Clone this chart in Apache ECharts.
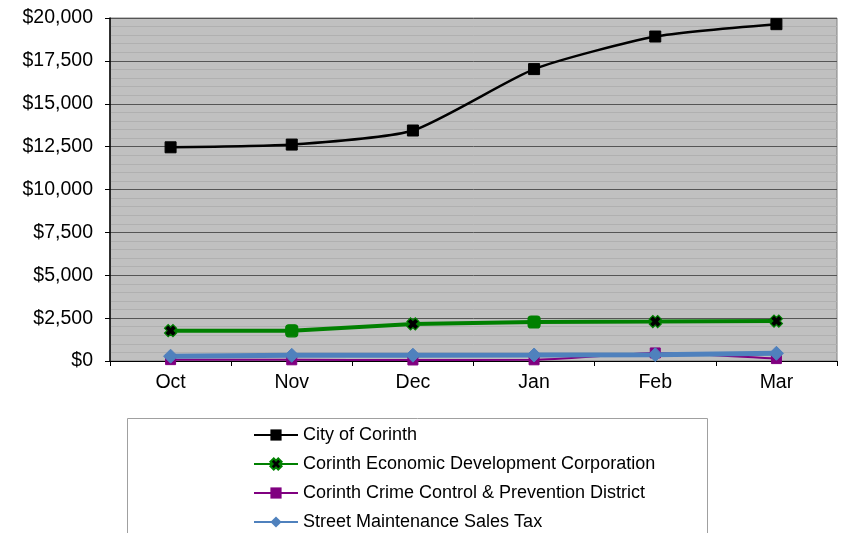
<!DOCTYPE html>
<html>
<head>
<meta charset="utf-8">
<script src="https://cdn.jsdelivr.net/npm/echarts@6/dist/echarts.min.js"></script>
<style>
  html, body { margin: 0; padding: 0; background: #fff; }
  #chart { width: 846px; height: 533px; }
</style>
</head>
<body>
<div id="chart"></div>
<script>
// months on the x axis
const months = ["Oct", "Nov", "Dec", "Jan", "Feb", "Mar"];

// monthly values
const cityOfCorinth = [12460, 12620, 13440, 17020, 18920, 19640];
const econDevCorp = [1770, 1760, 2160, 2275, 2300, 2330];
const crimeControl = [80, 70, 60, 70, 470, 140];
const streetMaint = [280, 330, 340, 350, 370, 450];

// which marker each green point uses (the original mixes them)
const econDevMarkers = ["x", "sq", "x", "sq", "x", "x"];

const X_PATH = "path://M0,3 L3,0 L5,2 L7,0 L10,3 L8,5 L10,7 L7,10 L5,8 L3,10 L0,7 L2,5 Z";
const FONT = "Liberation Sans, Arial, sans-serif";

const chart = echarts.init(document.getElementById("chart"));

const greenData = econDevCorp.map((v, i) => {
  if (econDevMarkers[i] === "sq") {
    return {
      value: v,
      symbol: "roundRect",
      symbolSize: 12,
      itemStyle: { color: "#008000", borderColor: "#008000" }
    };
  }
  return v;
});

const option = {
  animation: false,
  grid: {
    left: 110,
    right: 9,
    top: 18,
    bottom: 172,
    show: true,
    backgroundColor: "#c0c0c0",
    borderColor: "#808080",
    borderWidth: 1
  },
  xAxis: {
    type: "category",
    data: months,
    boundaryGap: true,
    axisLine: { lineStyle: { color: "#000", width: 1 } },
    axisTick: { show: true, length: 5, lineStyle: { color: "#000" } },
    axisLabel: { color: "#000", fontSize: 19.5, fontFamily: FONT, margin: 12 },
    splitLine: { show: false }
  },
  yAxis: {
    type: "value",
    min: 0,
    max: 20000,
    interval: 2500,
    axisLine: { show: true, lineStyle: { color: "#000", width: 1.5 } },
    axisTick: { show: true, length: 5, lineStyle: { color: "#000" } },
    minorTick: { show: true, splitNumber: 5, length: 0, lineStyle: { opacity: 0 } },
    minorSplitLine: { show: true, lineStyle: { color: "#b0b0b0", width: 1 } },
    splitLine: { show: true, lineStyle: { color: "#555", width: 1 } },
    axisLabel: {
      color: "#000",
      fontSize: 19.5,
      fontFamily: FONT,
      margin: 17,
      formatter: (v) => "$" + v.toLocaleString("en-US")
    }
  },
  legend: {
    orient: "vertical",
    left: 253,
    top: 425,
    height: 200,
    padding: 0,
    itemWidth: 44,
    itemHeight: 14,
    itemGap: 9,
    textStyle: {
      color: "#000",
      fontSize: 18,
      fontFamily: FONT,
      lineHeight: 20
    },
    data: [
      "City of Corinth",
      "Corinth Economic Development Corporation",
      "Corinth Crime Control & Prevention District",
      "Street Maintenance Sales Tax"
    ]
  },
  graphic: [
    {
      type: "rect",
      silent: true,
      z: -1,
      shape: { x: 127.5, y: 418.5, width: 580, height: 130 },
      style: { fill: "#fff", stroke: "#a0a0a0", lineWidth: 1 }
    }
  ],
  series: [
    {
      name: "City of Corinth",
      type: "line",
      data: cityOfCorinth,
      symbol: "rect",
      symbolSize: 11,
      smooth: 0.2,
      lineStyle: { color: "#000", width: 2.5 },
      itemStyle: { color: "#000", borderColor: "#000" }
    },
    {
      name: "Corinth Economic Development Corporation",
      type: "line",
      data: greenData,
      symbol: X_PATH,
      symbolSize: 12,
      lineStyle: { color: "#008000", width: 4 },
      itemStyle: { color: "#000", borderColor: "#008000", borderWidth: 1.2 }
    },
    {
      name: "Corinth Crime Control & Prevention District",
      type: "line",
      data: crimeControl,
      symbol: "rect",
      symbolSize: 10,
      smooth: 0.2,
      lineStyle: { color: "#800080", width: 2 },
      itemStyle: { color: "#800080", borderColor: "#800080" }
    },
    {
      name: "Street Maintenance Sales Tax",
      type: "line",
      data: streetMaint,
      symbol: "diamond",
      symbolSize: 14,
      lineStyle: { color: "#4f81bd", width: 5 },
      itemStyle: { color: "#4f81bd", borderColor: "#4f81bd" }
    }
  ]
};

chart.setOption(option);
</script>
</body>
</html>
